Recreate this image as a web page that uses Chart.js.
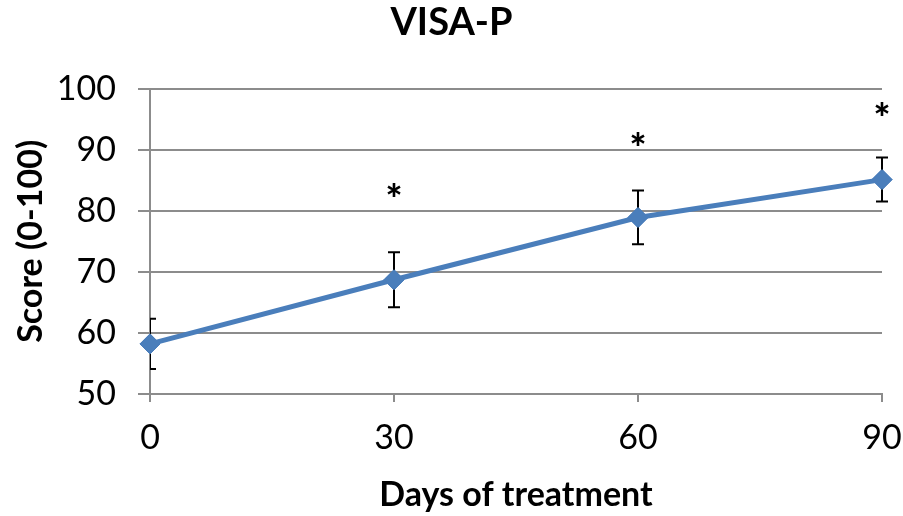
<!DOCTYPE html>
<html>
<head>
<meta charset="utf-8">
<script src="https://cdn.jsdelivr.net/npm/chart.js@4"></script>
<style>
html,body{margin:0;padding:0;background:#fff;}
#wrap{width:903px;height:516px;}
</style>
</head>
<body>
<div id="wrap"><canvas id="c" width="903" height="516"></canvas></div>
<script>
const days = [0, 30, 60, 90];
const scores = [58.2, 68.7, 78.9, 85.1];
const errors = [4.1, 4.5, 4.4, 3.6];
const significant = [false, true, true, true];
const starLevels = [null, 82.9, 91.3, 96.2];
const yTicks = [50, 60, 70, 80, 90, 100];
const xTicks = [0, 30, 60, 90];

const FONT = "Lato, 'Liberation Sans', sans-serif";

const extrasPlugin = {
  id: 'extras',
  afterDatasetsDraw(chart) {
    const ctx = chart.ctx;
    const xs = chart.scales.x, ys = chart.scales.y;
    const area = chart.chartArea;
    ctx.save();
    ctx.beginPath();
    ctx.rect(area.left, area.top - 20, area.right - area.left + 20, area.bottom - area.top + 40);
    ctx.clip();
    ctx.strokeStyle = '#000';
    ctx.lineWidth = 2;
    days.forEach((d, i) => {
      const x = xs.getPixelForValue(d);
      const yt = ys.getPixelForValue(scores[i] + errors[i]);
      const yb = ys.getPixelForValue(scores[i] - errors[i]);
      ctx.beginPath();
      ctx.moveTo(x, yt); ctx.lineTo(x, yb);
      ctx.moveTo(x - 6, yt); ctx.lineTo(x + 6, yt);
      ctx.moveTo(x - 6, yb); ctx.lineTo(x + 6, yb);
      ctx.stroke();
    });
    ctx.restore();
    const meta = chart.getDatasetMeta(0);
    meta.data.forEach(p => p.draw(ctx, area));
    ctx.save();
    ctx.fillStyle = '#000';
    ctx.font = "900 40px " + FONT;
    ctx.textAlign = 'center';
    ctx.textBaseline = 'middle';
    days.forEach((d, i) => {
      if (!significant[i]) return;
      ctx.fillText('*', xs.getPixelForValue(d), ys.getPixelForValue(starLevels[i]) + 8);
    });
    ctx.restore();
  }
};

new Chart(document.getElementById('c'), {
  type: 'line',
  data: {
    datasets: [{
      data: days.map((d, i) => ({x: d, y: scores[i]})),
      borderColor: '#4a7ebb',
      backgroundColor: '#4a7ebb',
      borderWidth: 5,
      pointStyle: 'rectRot',
      pointRadius: 10,
      pointBorderWidth: 1,
      pointBackgroundColor: '#4a7ebb',
      pointBorderColor: '#4a7ebb',
      tension: 0,
      clip: false
    }]
  },
  options: {
    responsive: false,
    animation: false,
    events: [],
    layout: { padding: { left: 0, right: 0, top: 0, bottom: 0 } },
    plugins: {
      legend: { display: false },
      tooltip: { enabled: false },
      title: {
        display: true,
        text: 'VISA-P',
        color: '#000',
        font: { family: FONT, size: 38, weight: 'bold' },
        padding: { top: 0, bottom: 43 }
      }
    },
    scales: {
      x: {
        type: 'linear',
        min: 0, max: 90,
        afterBuildTicks: s => { s.ticks = xTicks.map(v => ({value: v})); },
        afterFit: s => { s.height = 122; s.paddingRight = 21; s.paddingLeft = 0; },
        ticks: { color: '#000', font: { family: FONT, size: 34 }, padding: 16, maxRotation: 0 },
        grid: { drawOnChartArea: false, drawTicks: true, tickLength: 8, color: '#8c8c8c', lineWidth: 2 },
        border: { display: true, color: '#8c8c8c', width: 2 },
        title: { display: true, text: 'Days of treatment', color: '#000',
                 font: { family: FONT, size: 34, weight: 'bold' }, padding: { top: 4, bottom: 1 } }
      },
      y: {
        min: 50, max: 100,
        afterBuildTicks: s => { s.ticks = yTicks.map(v => ({value: v})); },
        afterFit: s => { s.width = 150; },
        ticks: { color: '#000', font: { family: FONT, size: 34 }, padding: 22 },
        grid: { drawOnChartArea: true, drawTicks: true, tickLength: 12, color: '#8c8c8c', lineWidth: 2 },
        border: { display: true, color: '#8c8c8c', width: 2 },
        title: { display: true, text: 'Score (0-100)', color: '#000',
                 font: { family: FONT, size: 34, weight: 'bold' }, padding: { top: 11, bottom: 0 } }
      }
    }
  },
  plugins: [extrasPlugin]
});
</script>
</body>
</html>
